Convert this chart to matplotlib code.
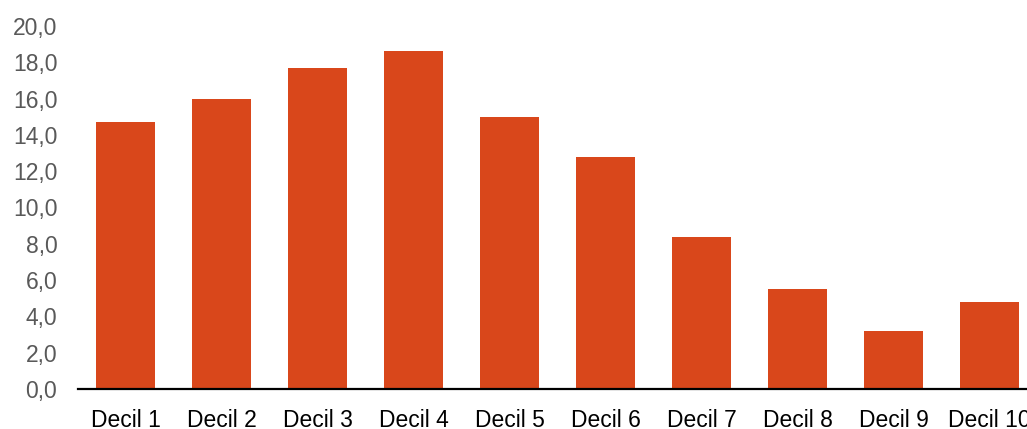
import matplotlib
matplotlib.use("Agg")
import matplotlib.pyplot as plt
from matplotlib.ticker import FuncFormatter

categories = ["Decil 1", "Decil 2", "Decil 3", "Decil 4", "Decil 5",
              "Decil 6", "Decil 7", "Decil 8", "Decil 9", "Decil 10"]
values = [14.7, 16.0, 17.7, 18.6, 15.0, 12.8, 8.4, 5.5, 3.2, 4.8]
y_ticks = [0, 2, 4, 6, 8, 10, 12, 14, 16, 18, 20]

plt.rcParams['font.family'] = ['Liberation Sans', 'DejaVu Sans']

fig = plt.figure(figsize=(10.27, 4.29), dpi=100)
W, H = 1027, 429
ax = fig.add_axes([77.5 / W, (H - 389) / H, 960 / W, 363 / H])

x = list(range(len(categories)))
ax.bar(x, values, width=0.615, color="#D9471B", zorder=2)

ax.set_xlim(-0.5, len(categories) - 0.5)
ax.set_ylim(0, 20)
ax.set_yticks(y_ticks)
ax.yaxis.set_major_formatter(FuncFormatter(lambda v, p: f"{v:.1f}".replace(".", ",")))
ax.set_xticks(x)
ax.set_xticklabels(categories)

for s in ["top", "right", "left"]:
    ax.spines[s].set_visible(False)
ax.spines["bottom"].set_linewidth(1.6)
ax.spines["bottom"].set_color("#000000")
ax.spines["bottom"].set_zorder(3)

ax.tick_params(axis="y", length=0, pad=14.5, labelsize=16.5, labelcolor="#595959")
ax.tick_params(axis="x", length=0, pad=14.5, labelsize=16.5, labelcolor="#000000")

fig.savefig("out.png", dpi=100)
